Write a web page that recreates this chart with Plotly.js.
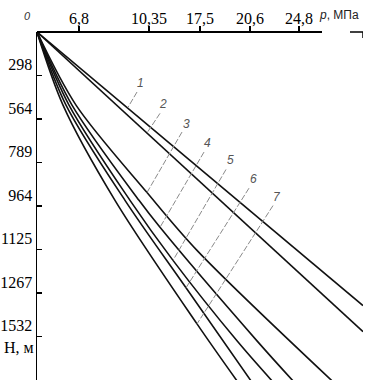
<!DOCTYPE html>
<html>
<head>
<meta charset="utf-8">
<script src="https://cdn.plot.ly/plotly-3.0.1.min.js"></script>
<style>html,body{margin:0;padding:0;background:#fff;}#chart{width:375px;height:391px;}</style>
</head>
<body>
<div id="chart"></div>
<script>
// x axis: positions of labelled pressure ticks (axis units) and their labels
const xTickPos = [4.2, 11.2, 16.3, 21.3, 26.2];
const xTickText = ['6,8', '10,35', '17,5', '20,6', '24,8'];
// y axis: depth ticks (axis units, 1 unit per tick) and labels
const yTickPos = [1, 2, 3, 4, 5, 6, 7, 8];
const yTickText = ['298', '564', '789', '964', '1125', '1267', '1532', ''];

// curves 1..7
const line1X = [0, 32.6];
const line1Y = [0, 6.29];
const line2X = [0, 32.6];
const line2Y = [0, 6.89];
const line3X = [0, 3.9, 11.0, 16.0, 29.6];
const line3Y = [0, 1.68, 3.69, 5.02, 8.04];
const line4X = [0, 3.5, 10.2, 12.3, 22.0, 25.6];
const line4Y = [0, 1.68, 3.87, 4.49, 7.10, 8.02];
const line5X = [0, 3.2, 9.3, 13.6, 20.0, 23.5];
const line5Y = [0, 1.68, 3.87, 5.25, 7.10, 8.02];
const line6X = [0, 2.9, 8.8, 14.9, 21.4];
const line6Y = [0, 1.68, 3.87, 5.88, 8.02];
const line7X = [0, 2.6, 7.8, 16.0, 20.0];
const line7Y = [0, 1.68, 3.87, 6.71, 8.02];

// curve labels and their leader lines
const curveNames = ['1', '2', '3', '4', '5', '6', '7'];
const labelX = [10.3, 12.6, 14.9, 17.0, 19.3, 21.6, 24.0];
const labelY = [1.18, 1.66, 2.12, 2.56, 2.95, 3.39, 3.80];
const leaderStartX = [10.0, 12.3, 14.5, 16.7, 18.9, 21.2, 23.6];
const leaderStartY = [1.38, 1.87, 2.30, 2.76, 3.16, 3.59, 3.99];
const leaderEndX = [9.1, 11.0, 11.0, 12.3, 13.6, 14.9, 16.0];
const leaderEndY = [1.73, 2.32, 3.69, 4.49, 5.25, 5.88, 6.71];

const X_MAX = 32.6, Y_MAX = 8.0;

const curves = [
  [line1X, line1Y], [line2X, line2Y], [line3X, line3Y], [line4X, line4Y],
  [line5X, line5Y], [line6X, line6Y], [line7X, line7Y]
];

const traces = [];
curves.forEach(function (c, i) {
  traces.push({
    x: c[0], y: c[1], type: 'scatter', mode: 'lines', name: curveNames[i],
    line: {color: '#111', width: 1.6, shape: 'spline', smoothing: 0.9},
    hoverinfo: 'skip', showlegend: false
  });
});
curveNames.forEach(function (n, i) {
  traces.push({
    x: [leaderStartX[i], leaderEndX[i]], y: [leaderStartY[i], leaderEndY[i]],
    type: 'scatter', mode: 'lines',
    line: {color: '#8a8a8a', width: 1, dash: '6px,2px'},
    hoverinfo: 'skip', showlegend: false
  });
});

const serif = "'Times New Roman', 'Liberation Serif', 'DejaVu Serif', serif";
const sans = "'Liberation Sans', Arial, sans-serif";

const annotations = curveNames.map(function (n, i) {
  return {x: labelX[i], y: labelY[i], xref: 'x', yref: 'y', text: '<i>' + n + '</i>',
    showarrow: false, font: {family: sans, size: 12, color: '#555'}};
});
annotations.push({x: 0, y: 1, xref: 'paper', yref: 'paper', xanchor: 'center', yanchor: 'middle',
  xshift: -10, yshift: 16, text: '<i>0</i>', showarrow: false,
  font: {family: sans, size: 11, color: '#333'}});
annotations.push({x: 0.925, y: 1, xref: 'paper', yref: 'paper', xanchor: 'center', yanchor: 'bottom', yshift: 8,
  text: '<i>p</i>, МПа',
  showarrow: false, font: {family: sans, size: 12, color: '#222'}});
annotations.push({x: 0, y: 0, xref: 'paper', yref: 'paper', xanchor: 'right', yanchor: 'middle', xshift: -1, yshift: 33,
  text: 'H, м', showarrow: false, font: {family: serif, size: 16, color: '#000'}});

const layout = {
  width: 375, height: 391,
  margin: {l: 37, r: 12, t: 32, b: 11, pad: 0},
  paper_bgcolor: '#fff', plot_bgcolor: '#fff',
  font: {family: serif, size: 16, color: '#000'},
  showlegend: false,
  xaxis: {
    side: 'top', range: [0, X_MAX], showgrid: false, zeroline: false, showline: false,
    tickmode: 'array', tickvals: xTickPos, ticktext: xTickText,
    ticks: 'outside', ticklen: 5, tickwidth: 1.5, tickcolor: '#000',
    ticklabelstandoff: -4,
    tickfont: {family: serif, size: 16, color: '#000'}
  },
  yaxis: {
    range: [Y_MAX, 0], showgrid: false, zeroline: false, showline: true, linecolor: '#000', linewidth: 1.5,
    tickmode: 'array', tickvals: yTickPos, ticktext: yTickText,
    ticks: 'inside', ticklen: 5, tickwidth: 1.2, tickcolor: '#000',
    ticklabelshift: 11, ticklabelstandoff: 0,
    tickfont: {family: serif, size: 16, color: '#000'}
  },
  shapes: [
    {type: 'line', xref: 'x', yref: 'paper', x0: 0, x1: 28.5, y0: 1, y1: 1, line: {color: '#000', width: 1.8}},
    {type: 'line', xref: 'x', yref: 'paper', x0: 31.3, x1: X_MAX, y0: 1, y1: 1, line: {color: '#000', width: 1.5}},
    {type: 'line', xref: 'x', yref: 'y', x0: X_MAX, x1: X_MAX, y0: 0, y1: 0.14, line: {color: '#000', width: 1.5}}
  ],
  annotations: annotations
};

Plotly.newPlot('chart', traces, layout, {displayModeBar: false, staticPlot: true});
</script>
</body>
</html>
